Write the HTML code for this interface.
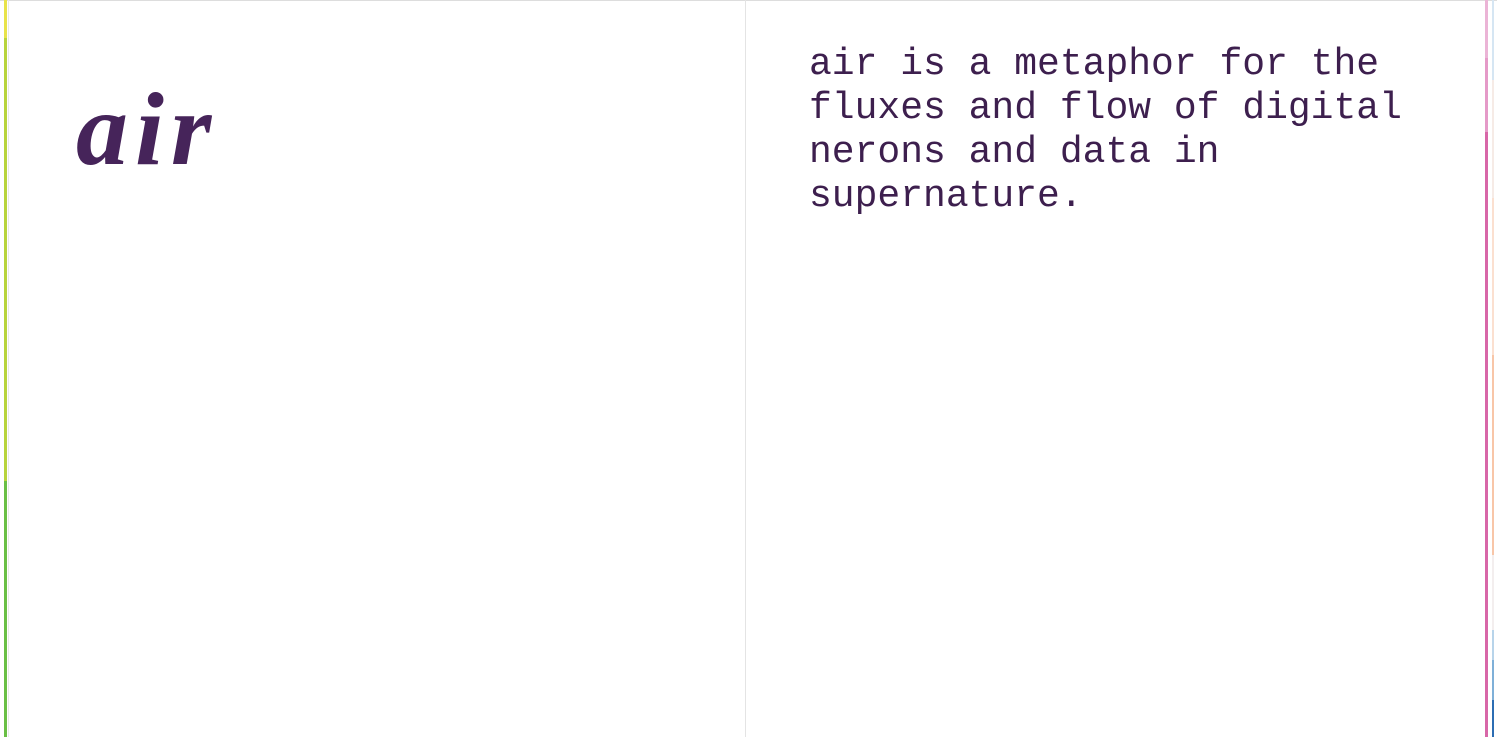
<!DOCTYPE html>
<html><head><meta charset="utf-8"><style>
html,body{margin:0;padding:0;background:#fff;}
body{width:1497px;height:737px;position:relative;overflow:hidden;}
.abs{position:absolute;}
.title{left:76px;top:70px;font-family:"Liberation Serif",serif;font-weight:bold;font-style:italic;font-size:104px;line-height:120px;color:#46245a;letter-spacing:7px;}
.txt{left:809px;top:43px;font-family:"Liberation Mono",monospace;font-size:38px;line-height:44px;color:#3d1f4e;white-space:pre;}
</style></head><body>
<div class="abs" style="left:0;top:0;width:1497px;height:1px;background:#ddd"></div>
<div class="abs" style="left:745px;top:0;width:1px;height:737px;background:#e4e4e4"></div>
<div class="abs" style="left:8px;top:0;width:1px;height:737px;background:#e8e8e8"></div>
<div class="abs" style="left:4px;top:0;width:3px;height:38px;background:#e8e34a"></div>
<div class="abs" style="left:4px;top:38px;width:3px;height:443px;background:#b8d43c"></div>
<div class="abs" style="left:4px;top:481px;width:3px;height:256px;background:#6abf45"></div>
<div class="abs" style="left:1485px;top:0;width:3px;height:58px;background:#ebb4d6"></div>
<div class="abs" style="left:1485px;top:58px;width:3px;height:74px;background:#e59ac8"></div>
<div class="abs" style="left:1485px;top:132px;width:3px;height:605px;background:#d867a8"></div>
<div class="abs" style="left:1492px;top:0;width:2px;height:80px;background:#d6e6f3"></div>
<div class="abs" style="left:1492px;top:80px;width:2px;height:118px;background:#f6ebe6"></div>
<div class="abs" style="left:1492px;top:198px;width:2px;height:157px;background:#fbe0d0"></div>
<div class="abs" style="left:1492px;top:355px;width:2px;height:200px;background:#f8c6a8"></div>
<div class="abs" style="left:1492px;top:555px;width:2px;height:75px;background:#f3eeee"></div>
<div class="abs" style="left:1492px;top:630px;width:2px;height:30px;background:#b8d4ea"></div>
<div class="abs" style="left:1492px;top:660px;width:2px;height:40px;background:#7fb0d8"></div>
<div class="abs" style="left:1492px;top:700px;width:2px;height:37px;background:#2c6db3"></div>
<div class="abs title">air</div>
<div class="abs txt">air is a metaphor for the
fluxes and flow of digital
nerons and data in
supernature.</div>
</body></html>
